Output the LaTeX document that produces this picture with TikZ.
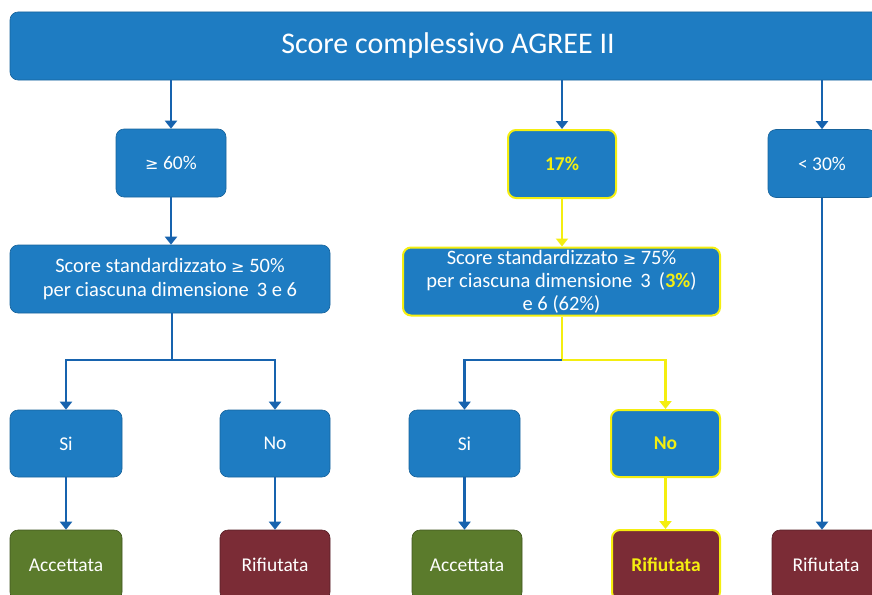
\documentclass[tikz,border=0pt]{standalone}
\usepackage{fontspec}
\setmainfont{Carlito}
\newfontfamily\symf{DejaVu Sans}
\usetikzlibrary{arrows.meta,positioning}
\definecolor{boxblue}{HTML}{1E7CC2}
\definecolor{lineblue}{HTML}{1763AE}
\definecolor{okgreen}{HTML}{5B7B2C}
\definecolor{nored}{HTML}{7B2C36}
\definecolor{hiyel}{HTML}{F4EE10}
\tikzset{
  bx/.style={rectangle,rounded corners=8pt,fill=boxblue,draw=boxblue!80!black,line width=0.6pt,text=white,font=\fontsize{19.5}{23}\selectfont,align=center,inner sep=0pt},
  hl/.style={draw=hiyel,line width=2pt},
  accbox/.style={bx,fill=okgreen,draw=okgreen!70!black},
  rejbox/.style={bx,fill=nored,draw=nored!70!black},
  conn/.style={draw=lineblue,line width=2.2pt,-{Triangle[width=12pt,length=8pt]}},
  yconn/.style={draw=hiyel,line width=2.6pt,-{Triangle[width=12pt,length=8pt]}},
}
\newcommand{\gq}{{\symf\fontsize{16}{18}\selectfont ≥}}
\newcommand{\yb}[1]{\textbf{\textcolor{hiyel}{#1}}}
\begin{document}
\begin{tikzpicture}[x=1pt,y=-1pt]
\useasboundingbox (0,0) rectangle (872,594);
\clip (0,0) rectangle (872,594);
% top bar
\node[bx,minimum width=876pt,minimum height=68pt,font=\fontsize{30}{34}\selectfont] (top) at (448,46) {Score complessivo AGREE II};
% level 1
\node[bx,minimum width=110pt,minimum height=68pt] (g60) at (171,163) {\gq{} 60\%};
\node[bx,hl,minimum width=108pt,minimum height=68pt] (p17) at (562,164) {\yb{17\%}};
\node[bx,minimum width=108pt,minimum height=68pt] (l30) at (822,163.5) {< 30\%};
% level 2
\node[bx,minimum width=320pt,minimum height=68pt,font=\fontsize{20.5}{24}\selectfont] (sL) at (170,279) {Score standardizzato \gq{} 50\%\\per ciascuna dimensione\, 3 e 6};
\node[bx,hl,minimum width=317pt,minimum height=68pt,font=\fontsize{20.5}{23}\selectfont] (sM) at (561.5,281.5) {Score standardizzato \gq{} 75\%\\per ciascuna dimensione\, 3\, (\yb{3\%})\\e 6 (62\%)};
% level 3
\node[bx,minimum width=112pt,minimum height=67pt] (siL) at (66,443.5) {Si};
\node[bx,minimum width=110pt,minimum height=67pt] (noL) at (275,443.5) {No};
\node[bx,minimum width=111pt,minimum height=67pt] (siM) at (464.5,443.5) {Si};
\node[bx,hl,minimum width=109pt,minimum height=67pt] (noM) at (665.5,443.5) {\yb{No}};
% level 4
\node[accbox,minimum width=112pt,minimum height=70pt] (acL) at (66,565) {Accettata};
\node[rejbox,minimum width=110pt,minimum height=70pt] (rfL) at (275,565) {Rifiutata};
\node[accbox,minimum width=110pt,minimum height=70pt] (acM) at (467,565) {Accettata};
\node[rejbox,hl,minimum width=108pt,minimum height=70pt] (rfM) at (666,565) {\yb{Rifiutata}};
\node[rejbox,minimum width=108pt,minimum height=70pt] (rfR) at (826,565) {Rifiutata};
% connectors
\draw[conn] (top.south -| g60.north) -- (g60.north);
\draw[conn] (top.south -| p17.north) -- (p17.north);
\draw[conn] (top.south -| l30.north) -- (l30.north);
\draw[conn] (g60.south) -- (g60.south |- sL.north);
\draw[yconn] (p17.south) -- (p17.south |- sM.north);
\draw[conn] (l30.south) -- (l30.south |- rfR.north);
\coordinate (jL) at (172,360);
\coordinate (jM) at (562,360);
\draw[draw=lineblue,line width=2.2pt] (sL.south -| jL) -- (jL);
\draw[conn] (jL) -| (siL.north);
\draw[conn] (jL) -| (noL.north);
\draw[draw=hiyel,line width=2.6pt] (sM.south -| jM) -- (jM);
\draw[conn] (jM) -| (siM.north);
\draw[yconn] (jM) -| (noM.north);
\draw[conn] (siL.south) -- (siL.south |- acL.north);
\draw[conn] (noL.south) -- (noL.south |- rfL.north);
\draw[conn] (siM.south) -- (siM.south |- acM.north);
\draw[yconn] (noM.south) -- (noM.south |- rfM.north);
\end{tikzpicture}
\end{document}
